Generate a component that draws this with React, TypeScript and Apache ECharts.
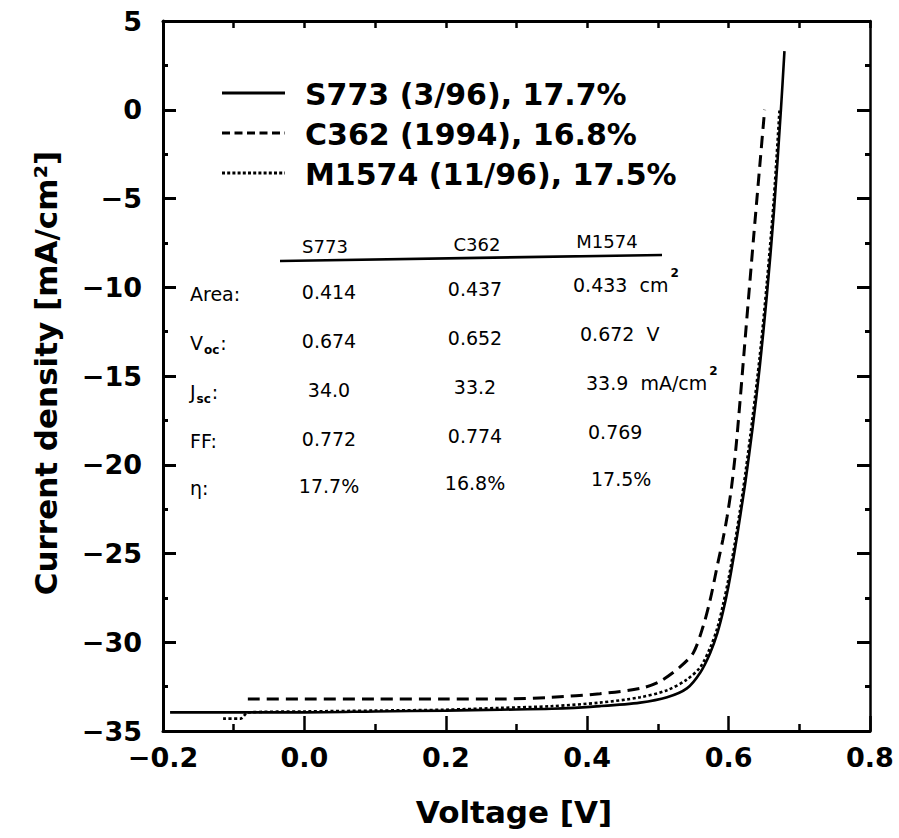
import React, { useEffect, useRef } from "react";
import * as echarts from "echarts";

// ---- data ----
const seriesNames = ["S773 (3/96), 17.7%", "C362 (1994), 16.8%", "M1574 (11/96), 17.5%"];

const s773Voltage = [-0.19, -0.1, 0.0, 0.1, 0.2, 0.277, 0.35, 0.418, 0.475, 0.513, 0.541, 0.56, 0.574, 0.584, 0.592, 0.6, 0.608, 0.616, 0.624, 0.634, 0.644, 0.654, 0.664, 0.674, 0.679];
const s773Current = [-33.95, -33.95, -33.95, -33.9, -33.85, -33.8, -33.75, -33.6, -33.4, -33.1, -32.6, -31.7, -30.6, -29.5, -28.3, -26.8, -25.0, -23.0, -20.9, -17.9, -14.5, -10.5, -5.8, 0.0, 3.3];

const c362Voltage = [-0.08, 0.0, 0.1, 0.2, 0.277, 0.35, 0.418, 0.475, 0.503, 0.531, 0.55, 0.564, 0.574, 0.585, 0.592, 0.598, 0.604, 0.61, 0.616, 0.622, 0.628, 0.636, 0.644, 0.651];
const c362Current = [-33.2, -33.2, -33.2, -33.2, -33.2, -33.1, -32.9, -32.6, -32.2, -31.4, -30.6, -29.1, -27.6, -25.5, -24.2, -22.9, -21.3, -19.2, -16.5, -13.6, -10.7, -6.9, -3.2, 0.0];

const m1574Voltage = [-0.115, -0.09, -0.08, 0.0, 0.1, 0.2, 0.277, 0.35, 0.418, 0.475, 0.513, 0.541, 0.56, 0.574, 0.584, 0.592, 0.6, 0.608, 0.616, 0.624, 0.634, 0.644, 0.654, 0.664, 0.672];
const m1574Current = [-34.3, -34.3, -33.95, -33.9, -33.85, -33.8, -33.7, -33.6, -33.4, -33.1, -32.7, -32.1, -31.4, -30.3, -29.2, -27.9, -26.4, -24.6, -22.6, -20.4, -17.3, -13.9, -9.8, -5.0, 0.0];

const xTickValues = [-0.2, 0.0, 0.2, 0.4, 0.6, 0.8];
const xTickLabels = ["−0.2", "0.0", "0.2", "0.4", "0.6", "0.8"];
const yTickValues = [5, 0, -5, -10, -15, -20, -25, -30, -35];
const yTickLabels = ["5", "0", "−5", "−10", "−15", "−20", "−25", "−30", "−35"];

const xAxisTitle = "Voltage [V]";
const yAxisTitle = "Current density [mA/cm²]";

const tableColumns = ["S773", "C362", "M1574"];
const areaValues = ["0.414", "0.437", "0.433"];
const vocValues = ["0.674", "0.652", "0.672"];
const jscValues = ["34.0", "33.2", "33.9"];
const ffValues = ["0.772", "0.774", "0.769"];
const etaValues = ["17.7%", "16.8%", "17.5%"];
const rowUnits = ["cm", "V", "mA/cm", "", ""];
const rowUnitSup = ["2", "", "2", "", ""];
const rowLabelMain = ["Area:", "V", "J", "FF:", "η:"];
const rowLabelSub = ["", "oc", "sc", "", ""];

// ---- layout / style ----
const FONT = "DejaVu Sans";
const tableRowsValues = [areaValues, vocValues, jscValues, ffValues, etaValues];
const rowY = [292, 341, 390, 439, 486];
const colShiftY = [0, -3, -7];
const colCenterX = [329, 475];
const col3LeftX = [573, 580, 586, 588, 591];

function pair(v: number[], c: number[]) {
  return v.map((x, i) => [x, c[i]]);
}

function fmtTick(values: number[], labels: string[]) {
  return (v: number) => {
    const i = values.findIndex((t) => Math.abs(t - v) < 1e-6);
    return i >= 0 ? labels[i] : "";
  };
}

function textWidth(s: string, font: string) {
  const c = document.createElement("canvas").getContext("2d");
  if (!c) return s.length * 11;
  c.font = font;
  return c.measureText(s).width;
}

function buildGraphics() {
  const els: any[] = [];
  const txt = (x: number, y: number, text: string, font: string, align: string = "left") => ({
    type: "text",
    x,
    y,
    silent: true,
    style: { text, fill: "#000", font, textAlign: align, textVerticalAlign: "middle" },
  });
  const tFont = `19px "${FONT}"`;
  const sFont = `bold 12px "${FONT}"`;

  // legend
  const legendY = [93, 133, 173];
  const dashes = [null, [8, 4.5], [3, 2.2]];
  const widths = [2.8, 3, 2.8];
  seriesNames.forEach((name, i) => {
    els.push({
      type: "line",
      silent: true,
      shape: { x1: 222, y1: legendY[i], x2: 285, y2: legendY[i] },
      style: { stroke: "#000", lineWidth: widths[i], lineDash: dashes[i] || undefined },
    });
    els.push(txt(305, legendY[i] + 1, name, `bold 30px "${FONT}"`));
  });

  // table header
  const headerX = [325, 477, 607];
  const headerY = [246, 244, 241];
  tableColumns.forEach((c, i) => els.push(txt(headerX[i], headerY[i], c, `18px "${FONT}"`, "center")));
  els.push({
    type: "line",
    silent: true,
    shape: { x1: 280, y1: 261, x2: 662, y2: 255 },
    style: { stroke: "#000", lineWidth: 2.6 },
  });

  // row labels
  rowLabelMain.forEach((lab, r) => {
    const y = rowY[r] + 2;
    els.push(txt(190, y, lab, tFont));
    if (rowLabelSub[r]) {
      const w = textWidth(lab, tFont) + 1;
      els.push(txt(190 + w, y + 7, rowLabelSub[r], sFont));
      els.push(txt(190 + w + textWidth(rowLabelSub[r], sFont) + 1, y, ":", tFont));
    }
  });

  // values
  tableRowsValues.forEach((vals, r) => {
    vals.forEach((v, c) => {
      const y = rowY[r] + colShiftY[c];
      if (c < 2) {
        els.push(txt(colCenterX[c], y, v, tFont, "center"));
      } else {
        const full = rowUnits[r] ? v + "  " + rowUnits[r] : v;
        els.push(txt(col3LeftX[r], y, full, tFont));
        if (rowUnitSup[r]) {
          const w = textWidth(full, tFont);
          els.push(txt(col3LeftX[r] + w + 2, y - 12, rowUnitSup[r], sFont));
        }
      }
    });
  });

  // axis titles
  els.push(txt(514, 812, xAxisTitle, `bold 31px "${FONT}"`, "center"));
  els.push({
    type: "text",
    x: 46,
    y: 373,
    rotation: Math.PI / 2,
    silent: true,
    style: { text: yAxisTitle, fill: "#000", font: `bold 31px "${FONT}"`, textAlign: "center", textVerticalAlign: "middle" },
  });
  return els;
}

export default function App() {
  const ref = useRef<HTMLDivElement>(null);
  useEffect(() => {
    if (!ref.current) return;
    const chart = echarts.init(ref.current, null, { renderer: "svg" });
    const axisLine = (w: number) => ({ show: true, onZero: false, lineStyle: { color: "#000", width: w } });
    const labelStyle = { color: "#000", fontFamily: FONT, fontSize: 27, fontWeight: "bold" };
    const common = { splitLine: { show: false }, minorSplitLine: { show: false } };
    chart.setOption({
      animation: false,
      backgroundColor: "#fff",
      grid: { left: 163, right: 29, top: 21, bottom: 107, containLabel: false },
      xAxis: [
        {
          type: "value",
          position: "bottom",
          min: -0.2,
          max: 0.8,
          interval: 0.2,
          ...common,
          axisLine: axisLine(3),
          axisTick: { show: true, inside: true, length: 15, lineStyle: { color: "#000", width: 2.5 } },
          minorTick: { show: true, splitNumber: 2, length: 7, lineStyle: { color: "#000", width: 2.5 } },
          axisLabel: { ...labelStyle, margin: 13, formatter: fmtTick(xTickValues, xTickLabels) },
        },
        {
          type: "value",
          position: "top",
          min: -0.2,
          max: 0.8,
          interval: 0.2,
          ...common,
          axisLine: axisLine(3),
          axisTick: { show: true, inside: true, length: 7, lineStyle: { color: "#000", width: 2.5 } },
          minorTick: { show: true, splitNumber: 2, length: 7, lineStyle: { color: "#000", width: 2.5 } },
          axisLabel: { show: false },
        },
      ],
      yAxis: [
        {
          type: "value",
          position: "left",
          min: -35,
          max: 5,
          interval: 5,
          ...common,
          axisLine: axisLine(3),
          axisTick: { show: true, inside: true, length: 13, lineStyle: { color: "#000", width: 3 } },
          minorTick: { show: true, splitNumber: 2, length: 5, lineStyle: { color: "#000", width: 3 } },
          axisLabel: { ...labelStyle, margin: 21, formatter: fmtTick(yTickValues, yTickLabels) },
        },
        {
          type: "value",
          position: "right",
          min: -35,
          max: 5,
          interval: 5,
          ...common,
          axisLine: axisLine(2.5),
          axisTick: { show: true, inside: true, length: 13, lineStyle: { color: "#000", width: 3 } },
          minorTick: { show: true, splitNumber: 2, length: 5, lineStyle: { color: "#000", width: 3 } },
          axisLabel: { show: false },
        },
      ],
      series: [
        {
          name: seriesNames[0],
          type: "line",
          xAxisIndex: 0,
          yAxisIndex: 0,
          data: pair(s773Voltage, s773Current),
          showSymbol: false,
          symbol: "none",
          smooth: 0.3,
          lineStyle: { color: "#000", width: 2.6, type: "solid" },
          z: 3,
        },
        {
          name: seriesNames[1],
          type: "line",
          xAxisIndex: 0,
          yAxisIndex: 0,
          data: pair(c362Voltage, c362Current),
          showSymbol: false,
          symbol: "none",
          smooth: 0.3,
          lineStyle: { color: "#000", width: 3, type: [12, 7] },
          z: 3,
        },
        {
          name: seriesNames[2],
          type: "line",
          xAxisIndex: 0,
          yAxisIndex: 0,
          data: pair(m1574Voltage, m1574Current),
          showSymbol: false,
          symbol: "none",
          smooth: 0.3,
          lineStyle: { color: "#000", width: 2.6, type: [3, 2.5] },
          z: 3,
        },
      ],
      graphic: buildGraphics(),
    });
    return () => chart.dispose();
  }, []);
  return <div ref={ref} style={{ position: "fixed", left: 0, top: 0, width: 899, height: 838, background: "#fff" }} />;
}
